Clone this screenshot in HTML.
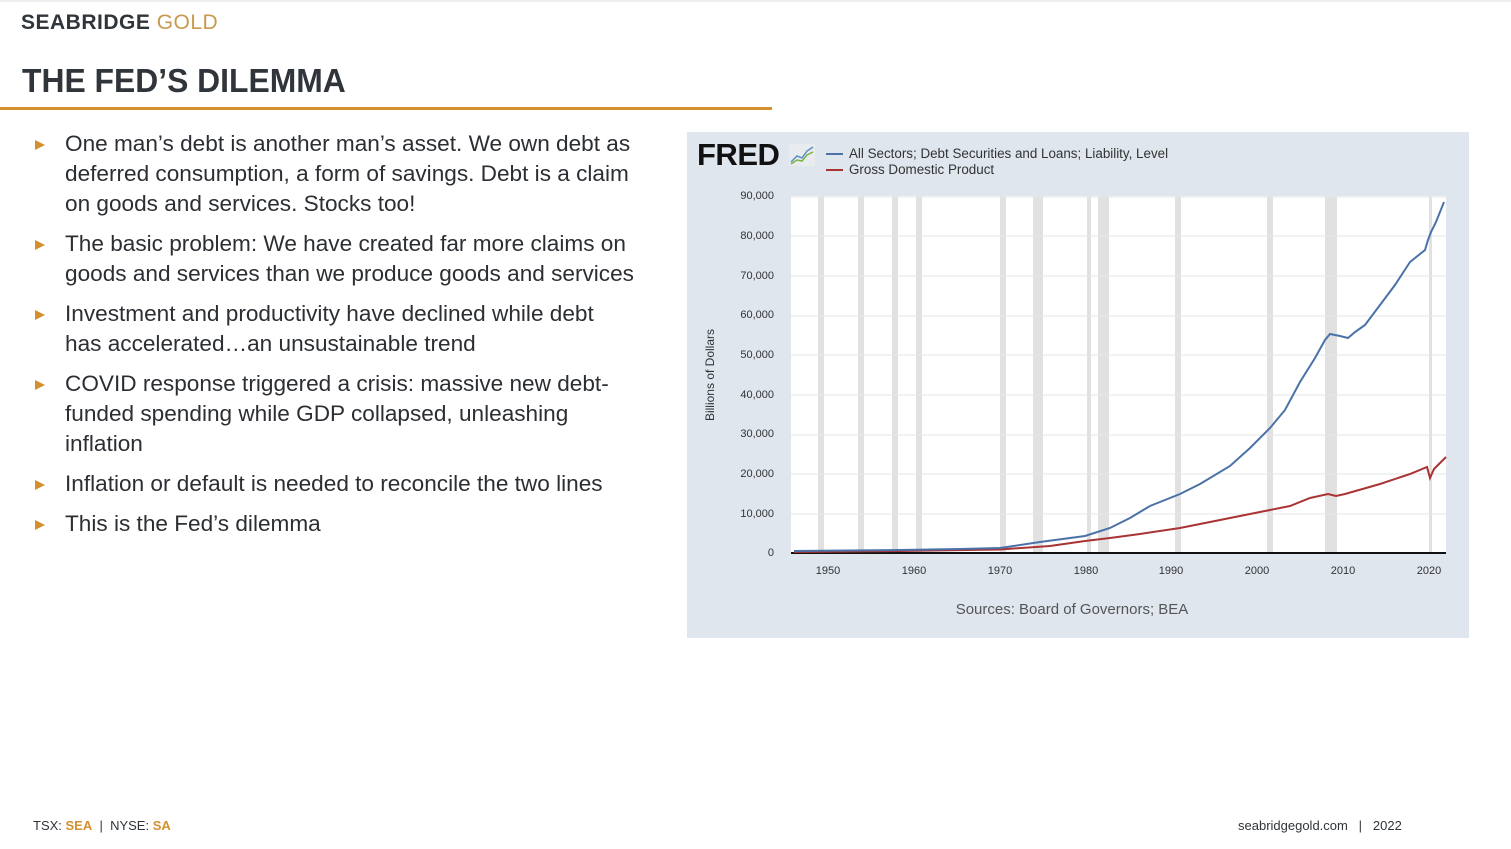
<!DOCTYPE html>
<html><head><style>
body{margin:0;width:1511px;height:849px;background:#fff;position:relative;overflow:hidden;font-family:"Liberation Sans",sans-serif;}
.a{position:absolute}
ul{list-style:none;margin:0;padding:0}
li{position:relative;font-size:22.6px;line-height:30px;color:#2b2f33;margin-bottom:10px;white-space:nowrap}
li:before{content:"";position:absolute;left:-30px;top:11px;border-left:10px solid #d4902f;border-top:5px solid transparent;border-bottom:5px solid transparent}
.yt{position:absolute;left:0;width:774px;text-align:right;font-size:11px;color:#333}
.xt{position:absolute;top:565px;font-size:11px;color:#333;width:40px;margin-left:-20px;text-align:center}
</style></head><body>
<div class="a" style="left:0;top:0;width:1511px;height:2px;background:#eee"></div>
<div class="a" style="left:21px;top:11px;font-size:21px;font-weight:bold;color:#2f353a;letter-spacing:0.5px">SEABRIDGE <span style="color:#c8994e;font-weight:normal">GOLD</span></div>
<div class="a" style="left:22px;top:62px;font-size:33px;font-weight:bold;color:#2f353a;transform:scaleX(0.965);transform-origin:left">THE FED’S DILEMMA</div>
<div class="a" style="left:0;top:107px;width:772px;height:3px;background:#d4902f"></div>
<ul class="a" style="left:65px;top:129px">
<li>One man’s debt is another man’s asset. We own debt as<br>deferred consumption, a form of savings. Debt is a claim<br>on goods and services. Stocks too!</li>
<li>The basic problem: We have created far more claims on<br>goods and services than we produce goods and services</li>
<li>Investment and productivity have declined while debt<br>has accelerated…an unsustainable trend</li>
<li>COVID response triggered a crisis: massive new debt-<br>funded spending while GDP collapsed, unleashing<br>inflation</li>
<li>Inflation or default is needed to reconcile the two lines</li>
<li>This is the Fed’s dilemma</li>
</ul>
<div class="a" style="left:687px;top:132px;width:782px;height:506px;background:#dfe6ee"></div>
<div class="a" style="left:697px;top:137px;font-size:31px;font-weight:bold;color:#111;letter-spacing:-0.5px">FRED</div>
<svg class="a" style="left:789px;top:144px" width="26" height="22"><rect width="26" height="22" fill="#e8ecef"/><polyline points="2,18 8,12 13,14 18,7 24,3" fill="none" stroke="#5b8dc9" stroke-width="1.5"/><polyline points="2,20 8,16 13,17 18,11 24,8" fill="none" stroke="#7cb342" stroke-width="1.5"/></svg>
<div class="a" style="left:826px;top:153px;width:17px;height:2px;background:#4a72a8"></div>
<div class="a" style="left:826px;top:169px;width:17px;height:2px;background:#aa3333"></div>
<div class="a" style="left:849px;top:146px;font-size:13.4px;color:#333;line-height:16px">All Sectors; Debt Securities and Loans; Liability, Level<br>Gross Domestic Product</div>
<div class="a" style="left:703px;top:430px;transform:rotate(-90deg);transform-origin:left top;font-size:12px;color:#333;width:110px;text-align:center">Billions of Dollars</div>
<div class="yt" style="top:190px">90,000</div><div class="yt" style="top:230px">80,000</div><div class="yt" style="top:270px">70,000</div><div class="yt" style="top:309px">60,000</div><div class="yt" style="top:349px">50,000</div><div class="yt" style="top:389px">40,000</div><div class="yt" style="top:428px">30,000</div><div class="yt" style="top:468px">20,000</div><div class="yt" style="top:508px">10,000</div><div class="yt" style="top:547px">0</div>
<div class="xt" style="left:828px">1950</div><div class="xt" style="left:914px">1960</div><div class="xt" style="left:1000px">1970</div><div class="xt" style="left:1086px">1980</div><div class="xt" style="left:1171px">1990</div><div class="xt" style="left:1257px">2000</div><div class="xt" style="left:1343px">2010</div><div class="xt" style="left:1429px">2020</div>
<svg class="a" style="left:0;top:0" width="1511" height="849">
<rect x="791" y="196" width="655" height="357" fill="#fff"/>
<g fill="#e1e1e1">
<rect x="818" y="196" width="6" height="357"/><rect x="858" y="196" width="6" height="357"/><rect x="892" y="196" width="6" height="357"/><rect x="916" y="196" width="6" height="357"/><rect x="1000" y="196" width="6" height="357"/><rect x="1033" y="196" width="10" height="357"/><rect x="1087" y="196" width="4" height="357"/><rect x="1098" y="196" width="11" height="357"/><rect x="1175" y="196" width="6" height="357"/><rect x="1267" y="196" width="6" height="357"/><rect x="1325" y="196" width="12" height="357"/><rect x="1429" y="196" width="3" height="357"/>
</g>
<g stroke="#e6e6e6" stroke-width="1">
<line x1="791" x2="1446" y1="197" y2="197"/><line x1="791" x2="1446" y1="236" y2="236"/><line x1="791" x2="1446" y1="276" y2="276"/><line x1="791" x2="1446" y1="316" y2="316"/><line x1="791" x2="1446" y1="355" y2="355"/><line x1="791" x2="1446" y1="395" y2="395"/><line x1="791" x2="1446" y1="435" y2="435"/><line x1="791" x2="1446" y1="474" y2="474"/><line x1="791" x2="1446" y1="514" y2="514"/>
</g>
<line x1="791" x2="1446" y1="553" y2="553" stroke="#111" stroke-width="2"/>
<polyline fill="none" stroke="#aa3333" stroke-width="2" points="794,552 900,551 1000,549.5 1050,546 1085,541 1110,538 1140,534 1180,528 1220,520 1260,512 1290,506 1310,498 1328,494 1336,496 1345,494 1380,484 1410,474 1427,467 1430,478 1434,469 1446,457"/>
<polyline fill="none" stroke="#4a72a8" stroke-width="2" points="794,551 900,550 960,549 1000,548 1040,542 1085,536 1110,528 1130,518 1150,506 1180,494 1200,484 1230,466 1250,448 1270,428 1285,410 1300,382 1315,358 1325,340 1330,334 1340,336 1348,338 1355,332 1365,325 1380,305 1395,285 1410,262 1425,250 1428,240 1431,232 1436,222 1444,202"/>
</svg>
<div class="a" style="left:687px;top:601px;width:770px;text-align:center;font-size:15px;color:#555">Sources: Board of Governors; BEA</div>
<div class="a" style="left:33px;top:818px;font-size:13px;color:#2f353a">TSX: <b style="color:#d4902f">SEA</b> &nbsp;| &nbsp;NYSE: <b style="color:#d4902f">SA</b></div>
<div class="a" style="left:1238px;top:818px;font-size:13px;color:#2f353a">seabridgegold.com &nbsp; | &nbsp; 2022</div>
</body></html>
